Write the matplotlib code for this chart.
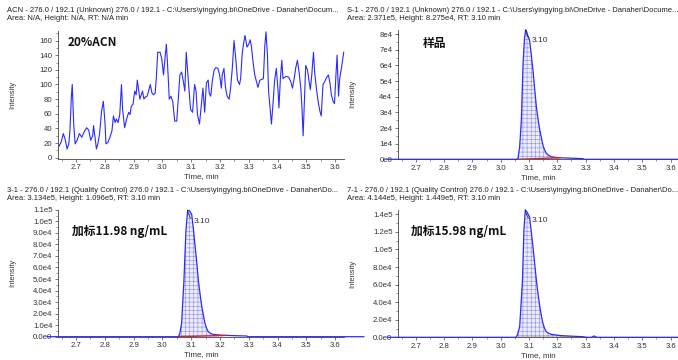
import numpy as np
import matplotlib
matplotlib.use("Agg")
import matplotlib.pyplot as plt
from matplotlib.ticker import MultipleLocator, FuncFormatter

plt.rcParams['font.family'] = ['Liberation Sans', 'DejaVu Sans']
plt.rcParams['hatch.linewidth'] = 0.4

# ---- data ----
# 20%ACN blank: noisy trace, time (min) / intensity
acn_t = [2.640, 2.648, 2.656, 2.663, 2.669, 2.675, 2.679, 2.684, 2.687, 2.692, 2.697,
         2.704, 2.712, 2.720, 2.728, 2.737, 2.744, 2.751, 2.758, 2.761, 2.766, 2.771,
         2.776, 2.782, 2.789, 2.795, 2.801, 2.804, 2.811, 2.818, 2.825, 2.830, 2.836,
         2.840, 2.846, 2.852, 2.858, 2.862, 2.869, 2.876, 2.883, 2.888, 2.892, 2.898,
         2.904, 2.909, 2.913, 2.919, 2.922, 2.927, 2.931, 2.936, 2.941, 2.947, 2.953,
         2.958, 2.964, 2.969, 2.975, 2.979, 2.984, 2.992, 2.998, 3.004, 3.009, 3.014,
         3.020, 3.024, 3.030, 3.036, 3.043, 3.050, 3.056, 3.061, 3.067, 3.073, 3.078,
         3.083, 3.088, 3.093, 3.098, 3.105, 3.112, 3.117, 3.122, 3.129, 3.141, 3.147,
         3.153, 3.159, 3.163, 3.168, 3.174, 3.180, 3.186, 3.193, 3.199, 3.205, 3.208,
         3.214, 3.219, 3.225, 3.232, 3.237, 3.243, 3.249, 3.255, 3.261, 3.268, 3.272,
         3.277, 3.281, 3.287, 3.294, 3.300, 3.305, 3.309, 3.315, 3.321, 3.327, 3.332,
         3.339, 3.346, 3.351, 3.356, 3.360, 3.365, 3.369, 3.374, 3.379, 3.385, 3.390,
         3.396, 3.402, 3.405, 3.410, 3.415, 3.419, 3.425, 3.431, 3.439, 3.446, 3.452,
         3.458, 3.463, 3.469, 3.475, 3.481, 3.485, 3.489, 3.493, 3.498, 3.504, 3.510,
         3.514, 3.519, 3.525, 3.529, 3.535, 3.541, 3.547, 3.552, 3.558, 3.564, 3.571,
         3.577, 3.583, 3.587, 3.593, 3.598, 3.603, 3.607, 3.612, 3.616, 3.622, 3.630]
acn_v = [15, 21, 33, 24, 12, 19, 37, 84, 100, 46, 19,
         24, 33, 28, 35, 41, 38, 24, 30, 44, 28, 12,
         19, 33, 64, 77, 46, 19, 21, 28, 37, 57, 48,
         53, 48, 59, 100, 66, 41, 53, 62, 59, 70, 73,
         91, 86, 106, 88, 80, 86, 91, 80, 83, 84, 92,
         100, 88, 86, 88, 109, 144, 144, 135, 113, 135, 155,
         113, 80, 84, 77, 50, 50, 84, 113, 117, 104, 91,
         144, 117, 91, 66, 62, 100, 91, 59, 46, 95, 62,
         102, 106, 88, 84, 106, 120, 123, 122, 113, 95, 113,
         122, 97, 84, 80, 95, 122, 160, 135, 106, 100, 108,
         140, 153, 167, 151, 155, 161, 153, 131, 113, 104, 96,
         106, 107, 108, 153, 172, 140, 91, 68, 46, 77, 106,
         122, 91, 68, 108, 133, 108, 110, 111, 110, 104, 95,
         108, 122, 133, 117, 95, 68, 30, 73, 126, 120, 104,
         93, 113, 144, 117, 95, 77, 64, 57, 100, 104, 110,
         113, 100, 86, 77, 74, 113, 140, 84, 108, 122, 144]

# S-1 sample
s1_t = [2.60, 3.055, 3.061, 3.067, 3.073, 3.079, 3.084, 3.088, 3.091, 3.096, 3.102,
        3.108, 3.114, 3.120, 3.126, 3.132, 3.138, 3.144, 3.149, 3.155, 3.161, 3.170,
        3.178, 3.195, 3.208, 3.250, 3.290, 3.295, 3.70]
s1_v = [0, 0, 500, 8.0e3, 2.51e4, 6.13e4, 7.7e4, 8.275e4, 8.2e4, 7.9e4, 7.62e4,
        6.7e4, 5.7e4, 4.5e4, 3.36e4, 2.55e4, 1.87e4, 1.35e4, 9.1e3, 6.0e3, 3.8e3, 2.5e3,
        1.7e3, 1.2e3, 1.0e3, 700, 400, 0, 0]

# 3-1 spiked 11.98 ng/mL
q3_t = [2.60, 3.055, 3.060, 3.067, 3.075, 3.082, 3.088, 3.095, 3.102, 3.108, 3.114,
        3.120, 3.125, 3.131, 3.137, 3.143, 3.148, 3.154, 3.160, 3.168, 3.177, 3.195,
        3.210, 3.250, 3.293, 3.298, 3.70]
q3_v = [0, 0, 2.0e3, 1.2e4, 4.9e4, 9.25e4, 1.096e5, 1.09e5, 1.06e5, 9.3e4, 7.8e4,
        6.3e4, 4.9e4, 3.7e4, 2.6e4, 1.8e4, 1.16e4, 7.0e3, 4.3e3, 2.8e3, 2.0e3, 1.5e3,
        1.2e3, 900, 600, 0, 0]

# 7-1 spiked 15.98 ng/mL
q7_t = [2.60, 3.053, 3.058, 3.067, 3.077, 3.082, 3.087, 3.094, 3.102, 3.108, 3.114,
        3.120, 3.126, 3.132, 3.138, 3.144, 3.149, 3.155, 3.161, 3.170, 3.178, 3.195,
        3.213, 3.250, 3.290, 3.300, 3.320, 3.330, 3.340, 3.70]
q7_v = [0, 0, 2.0e3, 1.2e4, 6.5e4, 1.22e5, 1.449e5, 1.42e5, 1.37e5, 1.2e5, 1.03e5,
        8.4e4, 6.5e4, 4.9e4, 3.5e4, 2.4e4, 1.6e4, 1.0e4, 6.4e3, 4.5e3, 3.4e3, 2.6e3,
        1.9e3, 1.3e3, 700, 0, 0, 1.5e3, 0, 0]

headers = [
    ("ACN - 276.0 / 192.1 (Unknown) 276.0 / 192.1 - C:\\Users\\yingying.bi\\OneDrive - Danaher\\Docum...",
     "Area: N/A, Height: N/A, RT: N/A min"),
    ("S-1 - 276.0 / 192.1 (Unknown) 276.0 / 192.1 - C:\\Users\\yingying.bi\\OneDrive - Danaher\\Docume...",
     "Area: 2.371e5, Height: 8.275e4, RT: 3.10 min"),
    ("3-1 - 276.0 / 192.1 (Quality Control) 276.0 / 192.1 - C:\\Users\\yingying.bi\\OneDrive - Danaher\\Do...",
     "Area: 3.134e5, Height: 1.096e5, RT: 3.10 min"),
    ("7-1 - 276.0 / 192.1 (Quality Control) 276.0 / 192.1 - C:\\Users\\yingying.bi\\OneDrive - Danaher\\Do...",
     "Area: 4.144e5, Height: 1.449e5, RT: 3.10 min"),
]
labels = ["20%ACN", "样品", "加标11.98 ng/mL", "加标15.98 ng/mL"]

W, H = 678, 360
fig = plt.figure(figsize=(W / 100, H / 100), dpi=100)

BLUE = '#2b2bff'
GREY = '#333333'


def px_axes(x0, y0, x1, y1):
    # pixel box (top-left origin) -> figure axes
    ax = fig.add_axes([x0 / W, 1 - y1 / H, (x1 - x0) / W, (y1 - y0) / H])
    ax._px_w = x1 - x0
    return ax


def sci_fmt(dec):
    def f(v, pos):
        if abs(v) < 1e-9:
            return "0" + ("." + "0" * dec if dec else "") + "e0"
        e = int(np.floor(np.log10(abs(v))))
        return f"{v / 10 ** e:.{dec}f}e{e}"
    return FuncFormatter(f)


def style(ax, xmax, ymax, ymaj, ymin_step, fmt=None):
    ax.set_xlim(2.6375, xmax)
    ax.set_ylim(0, ymax)
    for s in ['top', 'right']:
        ax.spines[s].set_visible(False)
    for s in ['left', 'bottom']:
        ax.spines[s].set_linewidth(0.6)
        ax.spines[s].set_color('#444444')
    ax.xaxis.set_major_locator(MultipleLocator(0.1))
    ax.xaxis.set_minor_locator(MultipleLocator(0.05))
    ax.yaxis.set_major_locator(MultipleLocator(ymaj))
    ax.yaxis.set_minor_locator(MultipleLocator(ymin_step))
    ax.xaxis.set_major_formatter(FuncFormatter(lambda v, p: f"{v:.1f}"))
    if fmt is not None:
        ax.yaxis.set_major_formatter(fmt)
    ax.tick_params(which='major', length=2.5, width=0.5, labelsize=5.6, pad=1.5,
                   colors='#444444', labelcolor=GREY)
    ax.tick_params(which='minor', length=1.5, width=0.4, colors='#444444')
    ax.set_xlabel("Time, min", fontsize=5.8, color=GREY, labelpad=1.5)
    ax.set_ylabel("Intensity", fontsize=5.4, color=GREY)
    ax.yaxis.set_label_coords(-42 / ax._px_w, 0.5)
    ax.patch.set_alpha(0)


def peak(ax, t, v, t0, t1, rt_label):
    t = np.array(t)
    v = np.array(v)
    m = (t >= t0) & (t <= t1)
    ax.fill_between(t[m], 0, v[m], facecolor='#ececfc', edgecolor='#8c8cf2',
                    hatch='++++', linewidth=0, zorder=2)
    ax.plot(t, v, color=BLUE, lw=0.9, zorder=3, clip_on=False)
    vend = np.interp(t1, t, v)
    ax.plot([t0 + 0.005, t1], [0, vend], color='#e02020', lw=1.0, zorder=3)
    i = int(np.argmax(v))
    ax.annotate(rt_label, xy=(t[i], v[i]), xytext=(6, -11), textcoords='offset pixels',
                fontsize=6, color=GREY, ha='left', va='center',
                arrowprops=dict(arrowstyle='-', lw=0.5, color='#222222',
                                connectionstyle='arc3,rad=-0.5', shrinkA=0, shrinkB=0))


# top-left: 20% ACN blank
ax1 = px_axes(58, 31, 344, 158.5)
ax1.plot(acn_t, acn_v, color=BLUE, lw=0.8, clip_on=False)
style(ax1, 3.631, 173, 20, 10)
ax1.set_ylim(-1, 173)

# top-right: sample
ax2 = px_axes(398, 29.5, 678, 159.3)
peak(ax2, s1_t, s1_v, 3.055, 3.21, "3.10")
style(ax2, 3.626, 8.3e4, 1e4, 5e3, FuncFormatter(lambda v, p: "0e0" if v == 0 else f"{int(round(v / 1e4))}e4"))

# bottom-left: 11.98 ng/mL
ax3 = px_axes(58, 209.8, 344, 336.7)
peak(ax3, q3_t, q3_v, 3.055, 3.22, "3.10")
style(ax3, 3.631, 1.10e5, 1e4, 5e3, sci_fmt(1))

# bottom-right: 15.98 ng/mL
ax4 = px_axes(398, 209.9, 678, 337.3)
peak(ax4, q7_t, q7_v, 3.055, 3.30, "3.10")
style(ax4, 3.626, 1.45e5, 2e4, 1e4, sci_fmt(1))
ax4.lines[1].set_color('#8b1010')

# header lines of each pane
for (l1, l2), (x, y) in zip(headers, [(7, 0), (347, 0), (7, 180), (347, 180)]):
    fig.text(x / W, 1 - (y + 10) / H, l1, fontsize=5.5, color='#222222', va='center')
    fig.text(x / W, 1 - (y + 19) / H, l2, fontsize=5.5, color='#222222', va='center')

# bold sample labels
cjk = ['Noto Sans CJK SC', 'DejaVu Sans']
for lab, (x, y) in zip(labels, [(68, 43), (423, 43), (72, 232), (411, 232)]):
    fig.text(x / W, 1 - y / H, lab, fontsize=8.5, fontweight='bold', family=cjk,
             color='#111111', va='center')

fig.savefig("out.png", dpi=100)
